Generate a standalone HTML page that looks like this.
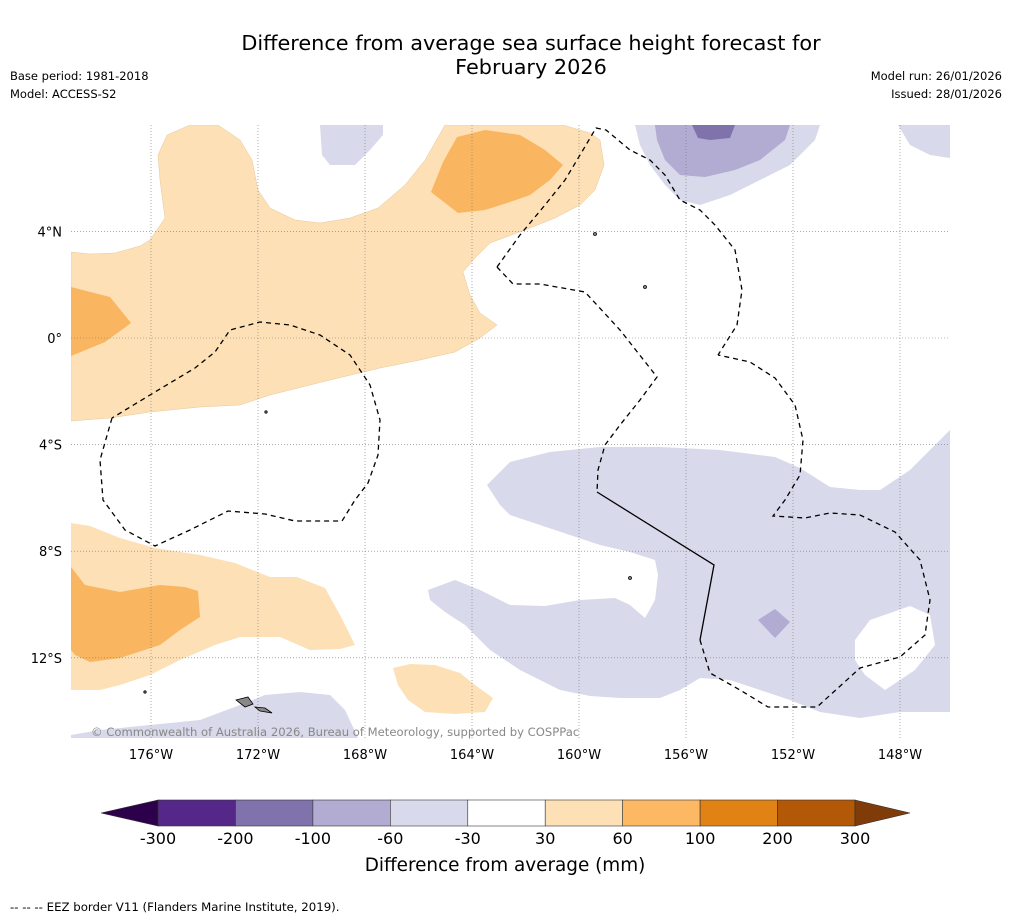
<!DOCTYPE html>
<html><head><meta charset="utf-8">
<style>
body{margin:0;background:#fff;font-family:"DejaVu Sans","Liberation Sans",sans-serif;}
svg{display:block}
</style></head>
<body>
<svg width="1011" height="919" viewBox="0 0 1011 919" font-family="DejaVu Sans, Liberation Sans, sans-serif">
<rect width="1011" height="919" fill="#fff"/>
<text x="531" y="50" font-size="20.8" text-anchor="middle">Difference from average sea surface height forecast for</text>
<text x="531" y="74" font-size="20.8" text-anchor="middle">February 2026</text>
<text x="10" y="80" font-size="11.5">Base period: 1981-2018</text>
<text x="10" y="98" font-size="11.5">Model: ACCESS-S2</text>
<text x="1002" y="80" font-size="11.5" text-anchor="end">Model run: 26/01/2026</text>
<text x="1002" y="98" font-size="11.5" text-anchor="end">Issued: 28/01/2026</text>

<g id="map">
<clipPath id="mc"><rect x="71" y="125" width="879" height="613"/></clipPath>
<g clip-path="url(#mc)">
<rect x="71" y="125" width="879" height="613" fill="#fff"/>
<polygon fill="#fde0b6" stroke="#e8c79a" stroke-width="0.5" points="71,252 90,254 115,253 140,246 150,240 165,218 160,180 158,155 167,135 190,125 218,125 240,140 252,160 258,190 270,208 295,220 320,223 350,218 378,208 405,185 425,160 445,125 563,125 590,133 600,140 604,165 595,190 580,205 555,218 525,230 490,243 475,258 463,272 470,295 480,313 497,325 480,338 455,352 420,360 380,368 330,380 270,395 240,405 200,407 150,412 110,418 71,421"/>
<polygon fill="#f9b560" points="71,287 110,297 131,323 105,342 71,356"/>
<polygon fill="#f9b560" points="431,192 443,162 457,137 485,130 520,135 545,150 563,165 550,180 530,195 510,202 485,210 458,213"/>
<polygon fill="#fde0b6" points="71,523 90,526 120,538 155,548 200,555 235,563 270,577 297,577 325,588 340,615 355,645 340,649 310,650 280,637 240,637 215,645 180,660 150,675 120,685 100,690 71,690"/>
<polygon fill="#f9b560" points="71,567 85,585 120,592 160,585 185,587 198,591 200,617 180,630 160,645 120,658 90,662 75,655 71,650"/>
<polygon fill="#fde0b6" points="393,668 410,664 435,665 460,673 475,685 493,698 485,712 455,714 425,712 408,700 398,685"/>
<polygon fill="#d8d9ea" points="487,485 510,462 550,452 600,447 660,447 720,450 775,457 800,468 830,487 860,490 880,490 910,470 940,440 950,430 950,712 900,712 860,718 820,712 790,700 760,690 730,680 700,678 680,690 660,698 620,698 590,696 560,690 520,670 490,650 465,625 445,612 430,600 428,590 455,580 480,590 510,605 545,606 580,600 615,598 630,605 645,618 655,600 658,575 655,560 630,552 600,545 570,535 540,525 510,515 500,505"/>
<polygon fill="#fff" points="855,640 870,620 910,606 930,615 935,645 915,670 885,690 865,675 855,660"/>
<polygon fill="#b2abd2" points="758,620 775,609 790,622 775,638"/>
<polygon fill="#d8d9ea" points="320,125 383,125 383,135 370,150 355,165 330,165 322,155"/>
<polygon fill="#d8d9ea" points="635,125 820,125 815,140 790,165 760,180 730,195 700,205 680,200 665,185 650,165 640,145"/>
<polygon fill="#b2abd2" points="655,125 790,125 785,140 760,160 735,170 705,177 680,175 665,160 657,140"/>
<polygon fill="#8073ac" points="692,125 735,125 730,138 710,140 698,138"/>
<polygon fill="#d8d9ea" points="898,125 950,125 950,158 930,155 910,145"/>
<polygon fill="#d8d9ea" points="71,738 71,735 100,730 150,725 200,720 240,705 265,695 300,692 330,695 345,710 358,738"/>
<g id="grid" stroke="#777" stroke-width="0.6" stroke-dasharray="1,2"></g>
<g fill="none" stroke="#000" stroke-width="1.3" stroke-dasharray="5,4">
<polyline points="112,418 100,460 103,500 125,530 155,546 190,530 228,511 265,514 295,521 342,521 355,500 368,483 378,455 380,420 370,385 350,355 320,335 290,325 260,322 230,330 215,352 195,368 150,395 112,418"/>
<polyline points="497,267 520,235 545,205 565,180 583,150 596,128 606,130 630,150 650,160 665,175 680,200 700,210 715,225 735,250 742,290 737,325 718,355"/>
<polyline points="497,267 513,284 540,284 585,292 620,330 657,377 640,400 620,425 605,445 598,470 597,492"/>
<polyline points="700,640 710,673 740,690 768,707 817,707 838,688 860,668 900,657 925,635 930,600 920,560 895,532 860,515 830,513 805,518 773,516 785,500 800,475 803,440 795,405 775,378 750,362 718,355"/>
</g>
<polyline fill="none" stroke="#000" stroke-width="1.3" points="597,492 714,565 700,640"/>
<g fill="#888" stroke="#000" stroke-width="0.8">
<polygon points="236,700 248,697 253,704 245,707"/>
<polygon points="255,707 265,708 272,713 260,711"/>
<circle cx="645" cy="287" r="1.5"/><circle cx="595" cy="234" r="1.5"/><circle cx="630" cy="578" r="1.5"/><circle cx="266" cy="412" r="1.2"/><circle cx="145" cy="692" r="1.2"/>
</g>
</g>
<g id="ticks" font-size="13"></g>
<text x="91" y="736" font-size="11.6" fill="#888">© Commonwealth of Australia 2026, Bureau of Meteorology, supported by COSPPac</text>
</g>

<g id="colorbar"></g>
<text x="505" y="871" font-size="18.4" text-anchor="middle">Difference from average (mm)</text>
<text x="10" y="911" font-size="11.75">--  --  -- EEZ border V11 (Flanders Marine Institute, 2019).</text>
</svg>
<script>
const lonTicks=[-176,-172,-168,-164,-160,-156,-152,-148];
const latTicks=[4,0,-4,-8,-12];
const cbBounds=[-300,-200,-100,-60,-30,30,60,100,200,300];
const cbColors=["#542788","#8073ac","#b2abd2","#d8daeb","#ffffff","#fee0b6","#fdb863","#e08214","#b35806"];
const cbEndColors=["#2d004b","#7f3b08"];
const NS="http://www.w3.org/2000/svg";
function xLon(l){return 151+(l+176)*26.75;}
function yLat(l){return 338-l*26.65;}
const grid=document.getElementById('grid'),ticks=document.getElementById('ticks');
lonTicks.forEach(l=>{
 const ln=document.createElementNS(NS,'line');
 
 
 ln.setAttribute('x1',xLon(l));ln.setAttribute('x2',xLon(l));ln.setAttribute('y1',125);ln.setAttribute('y2',738);grid.appendChild(ln);
 const t=document.createElementNS(NS,'text');
 
 
 t.setAttribute('x',xLon(l));t.setAttribute('y',759);t.setAttribute('text-anchor','middle');t.textContent=Math.abs(l)+'°W';ticks.appendChild(t);
});
latTicks.forEach(l=>{
 const ln=document.createElementNS(NS,'line');
 
 
 ln.setAttribute('x1',71);ln.setAttribute('x2',950);ln.setAttribute('y1',yLat(l));ln.setAttribute('y2',yLat(l));grid.appendChild(ln);
 const t=document.createElementNS(NS,'text');
 
 
 t.setAttribute('x',62);t.setAttribute('y',yLat(l)+5);t.setAttribute('text-anchor','end');t.textContent=l===0?'0°':Math.abs(l)+'°'+(l>0?'N':'S');ticks.appendChild(t);
});
const cb=document.getElementById('colorbar');
const cx0=158,cw=(855-158)/(cbBounds.length-1),cy=800,ch=26;
cbColors.forEach((c,i)=>{
 const r=document.createElementNS(NS,'rect');
 
 
 r.setAttribute('x',cx0+i*cw);r.setAttribute('y',cy);r.setAttribute('width',cw);r.setAttribute('height',ch);r.setAttribute('fill',c);r.setAttribute('stroke','#333');r.setAttribute('stroke-width','0.6');cb.appendChild(r);
});
[[cx0,cx0-57,cbEndColors[0]],[855,855+55,cbEndColors[1]]].forEach(([a,b,c])=>{
 const p=document.createElementNS(NS,'polygon');
 
 
 p.setAttribute('points',`${a},${cy} ${b},${cy+ch/2} ${a},${cy+ch}`);p.setAttribute('fill',c);p.setAttribute('stroke','#333');p.setAttribute('stroke-width','0.6');cb.appendChild(p);
});
cbBounds.forEach((v,i)=>{
 const t=document.createElementNS(NS,'text');
 
 
 t.setAttribute('x',cx0+i*cw);t.setAttribute('y',844);t.setAttribute('font-size','16');t.setAttribute('text-anchor','middle');t.textContent=v;cb.appendChild(t);
});
</script>
</body></html>
